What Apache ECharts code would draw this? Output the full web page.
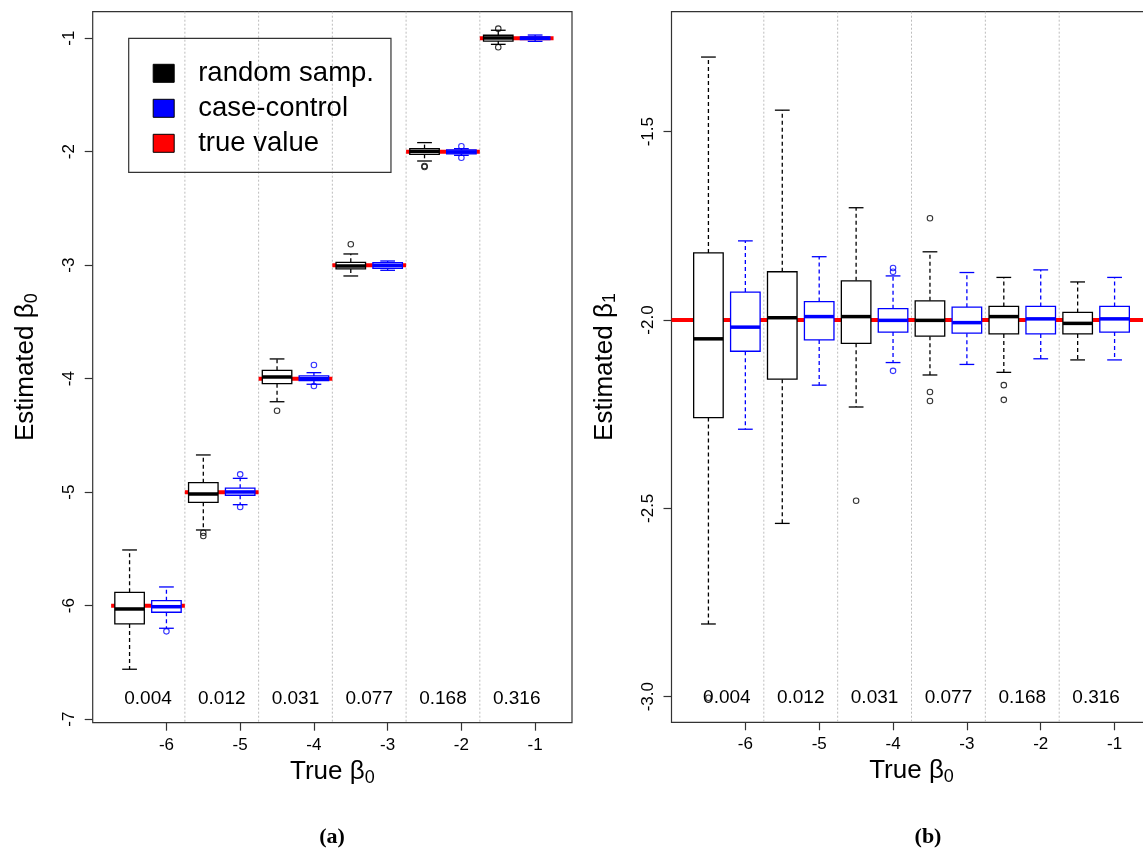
<!DOCTYPE html>
<html><head><meta charset="utf-8">
<script src="https://cdn.jsdelivr.net/npm/echarts@6/dist/echarts.min.js"></script>
<style>html,body{margin:0;padding:0;background:#fff}#c{width:1143px;height:849px}</style>
</head><body><div id="c"></div>
<script>
// ---------- data ----------
const trueBeta0 = [-6, -5, -4, -3, -2, -1];
const prevalence = ['0.004', '0.012', '0.031', '0.077', '0.168', '0.316'];
const trueBeta1 = -2;
const yTicksA = [-7, -6, -5, -4, -3, -2, -1];
const yTicksB = [-3.0, -2.5, -2.0, -1.5];

// [lower whisker, Q1, median, Q3, upper whisker] per true beta0
const b0Random = [
  [-6.560, -6.161, -6.029, -5.882, -5.509],
  [-5.333, -5.089, -5.016, -4.916, -4.672],
  [-4.203, -4.044, -3.985, -3.926, -3.826],
  [-3.095, -3.033, -3.007, -2.975, -2.901],
  [-2.082, -2.023, -1.997, -1.973, -1.920],
  [-1.054, -1.025, -0.998, -0.974, -0.930]
];
const b0CaseControl = [
  [-6.199, -6.058, -6.009, -5.956, -5.835],
  [-5.110, -5.027, -4.998, -4.965, -4.878],
  [-4.049, -4.017, -4.000, -3.976, -3.947],
  [-3.045, -3.027, -3.001, -2.978, -2.963],
  [-2.032, -2.020, -2.003, -1.985, -1.973],
  [-1.028, -1.012, -1.000, -0.988, -0.972]
];
const b0RandomOutliers = [[-5, -5.357], [-5, -5.386], [-4, -4.282], [-3, -2.816], [-2, -2.126], [-2, -2.135], [-1, -0.916], [-1, -1.080]];
const b0CaseControlOutliers = [[-6, -6.226], [-5, -4.843], [-5, -5.130], [-4, -3.879], [-4, -4.064], [-2, -1.952], [-2, -2.053]];

const b1Random = [
  [-2.807, -2.259, -2.050, -1.822, -1.302],
  [-2.540, -2.157, -1.994, -1.872, -1.443],
  [-2.231, -2.062, -1.991, -1.896, -1.702],
  [-2.146, -2.043, -2.001, -1.949, -1.819],
  [-2.139, -2.037, -1.991, -1.964, -1.887],
  [-2.106, -2.037, -2.009, -1.980, -1.899]
];
const b1CaseControl = [
  [-2.290, -2.083, -2.019, -1.926, -1.790],
  [-2.173, -2.053, -1.991, -1.951, -1.832],
  [-2.113, -2.032, -2.001, -1.970, -1.883],
  [-2.118, -2.035, -2.007, -1.966, -1.874],
  [-2.103, -2.037, -1.997, -1.964, -1.867],
  [-2.106, -2.032, -1.997, -1.964, -1.887]
];
const b1RandomOutliers = [[-6, -3.003], [-4, -2.480], [-3, -1.730], [-3, -2.191], [-3, -2.215], [-2, -2.173], [-2, -2.212]];
const b1CaseControlOutliers = [[-4, -1.862], [-4, -1.872], [-4, -2.135]];

// ---------- layout / style constants ----------
const FONT = 'Liberation Sans, Arial, sans-serif';
const RAND_OFFSET = -0.5;   // random-sampling box sits half a unit left of its tick
const BOX_W = 0.4;          // box width in axis units
const BLACK = '#000000', BLUE = '#0000ff', RED = '#ff0000';

function boxSeries(name, values, offset, color, axis) {
  return {
    type: 'custom', name, xAxisIndex: axis, yAxisIndex: axis,
    data: values.map((v, i) => [trueBeta0[i] + offset].concat(v)),
    encode: { x: 0, y: [1, 2, 3, 4, 5] },
    z: 3,
    renderItem(params, api) {
      const x = api.value(0);
      const lo = api.coord([x, api.value(1)]);
      const q1 = api.coord([x, api.value(2)]);
      const md = api.coord([x, api.value(3)]);
      const q3 = api.coord([x, api.value(4)]);
      const hi = api.coord([x, api.value(5)]);
      const bw = api.size([BOX_W, 0])[0];
      const half = bw / 2, cap = bw / 4, cx = lo[0];
      const thin = { stroke: color, lineWidth: 1.3 };
      const dash = { stroke: color, lineWidth: 1.3, lineDash: [4, 3] };
      return {
        type: 'group', children: [
          { type: 'line', shape: { x1: cx, y1: q3[1], x2: cx, y2: hi[1] }, style: dash },
          { type: 'line', shape: { x1: cx, y1: q1[1], x2: cx, y2: lo[1] }, style: dash },
          { type: 'line', shape: { x1: cx - cap, y1: hi[1], x2: cx + cap, y2: hi[1] }, style: thin },
          { type: 'line', shape: { x1: cx - cap, y1: lo[1], x2: cx + cap, y2: lo[1] }, style: thin },
          { type: 'rect', shape: { x: cx - half, y: q3[1], width: bw, height: q1[1] - q3[1] }, style: { fill: '#fff', stroke: color, lineWidth: 1.3 } },
          { type: 'line', shape: { x1: cx - half, y1: md[1], x2: cx + half, y2: md[1] }, style: { stroke: color, lineWidth: 3.5 } }
        ]
      };
    }
  };
}

function outlierSeries(name, pts, offset, color, axis) {
  return {
    type: 'scatter', name, xAxisIndex: axis, yAxisIndex: axis, z: 4,
    data: pts.map(p => [p[0] + offset, p[1]]),
    symbol: 'circle', symbolSize: 5.5,
    itemStyle: { color: 'rgba(0,0,0,0)', borderColor: color, borderWidth: 1.1 },
    silent: true
  };
}

function separatorSeries(axis) {
  return {
    type: 'custom', xAxisIndex: axis, yAxisIndex: axis, z: 1, silent: true,
    data: trueBeta0.slice(0, trueBeta0.length - 1).map(b => [b + 0.25]),
    encode: { x: 0 },
    renderItem(params, api) {
      const cs = params.coordSys;
      const x = api.coord([api.value(0), 0])[0];
      return { type: 'line', shape: { x1: x, y1: cs.y, x2: x, y2: cs.y + cs.height },
        style: { stroke: '#bdbdbd', lineWidth: 1, lineDash: [2, 2] } };
    }
  };
}

function labelSeries(axis) {
  return {
    type: 'custom', xAxisIndex: axis, yAxisIndex: axis, z: 5, silent: true,
    data: trueBeta0.map(b => [b - 0.25]),
    encode: { x: 0 },
    renderItem(params, api) {
      const cs = params.coordSys;
      const x = api.coord([api.value(0), 0])[0];
      return { type: 'text', style: { text: prevalence[params.dataIndex], x: x, y: cs.y + cs.height - 24.4,
        align: 'center', verticalAlign: 'middle', fontSize: 19, fontFamily: FONT, fill: '#000' } };
    }
  };
}

const richName = {
  m: { fontSize: 26, fontFamily: FONT, color: '#000', lineHeight: 30 },
  s: { fontSize: 18, fontFamily: FONT, color: '#000', lineHeight: 14, verticalAlign: 'bottom' }
};

function xAxis(idx) {
  return {
    gridIndex: idx, type: 'value', min: -7, max: -0.5,
    axisLine: { show: false }, splitLine: { show: false },
    axisTick: { show: true, length: 8, customValues: trueBeta0, lineStyle: { color: '#333', width: 1.2 } },
    axisLabel: { customValues: trueBeta0, fontSize: 17, fontFamily: FONT, color: '#000', margin: 14 },
    name: '{m|True β}{s|0}', nameLocation: 'middle', nameGap: 32,
    nameTextStyle: { rich: richName }
  };
}
function yAxis(idx, min, max, ticks, sub, fmt) {
  return {
    gridIndex: idx, type: 'value', min, max,
    axisLine: { show: false }, splitLine: { show: false },
    axisTick: { show: true, length: 8, customValues: ticks, lineStyle: { color: '#333', width: 1.2 } },
    axisLabel: { customValues: ticks, rotate: 90, fontSize: 17, fontFamily: FONT, color: '#000', margin: 15, formatter: fmt },
    name: '{m|Estimated β}{s|' + sub + '}', nameLocation: 'middle', nameGap: 52, nameRotate: 90,
    nameTextStyle: { rich: richName }
  };
}

const captionRich = {
  p: { fontSize: 22, fontFamily: 'Liberation Serif, serif', color: '#000' },
  b: { fontSize: 22, fontWeight: 'bold', fontFamily: 'Liberation Serif, serif', color: '#000' }
};

const option = {
  backgroundColor: '#fff',
  animation: false,
  title: [
    { text: '{p|(}{b|a}{p|)}', left: 332, top: 826, textAlign: 'center', padding: 0, textStyle: { rich: captionRich } },
    { text: '{p|(}{b|b}{p|)}', left: 928, top: 826, textAlign: 'center', padding: 0, textStyle: { rich: captionRich } }
  ],
  legend: {
    left: 128.7, top: 38.3, orient: 'vertical',
    padding: [21, 17, 15, 24],
    itemWidth: 21, itemHeight: 18, itemGap: 7,
    borderColor: '#333', borderWidth: 1.2, selectedMode: false,
    textStyle: { fontSize: 27.5, fontFamily: FONT, color: '#000', padding: [0, 0, 0, 19] },
    data: [
      { name: 'random samp.', icon: 'rect', itemStyle: { color: BLACK, borderColor: '#000', borderWidth: 1 } },
      { name: 'case-control', icon: 'rect', itemStyle: { color: BLUE, borderColor: '#000', borderWidth: 1 } },
      { name: 'true value', icon: 'rect', itemStyle: { color: RED, borderColor: '#000', borderWidth: 1 } }
    ]
  },
  grid: [
    { left: 92.7, top: 11.7, width: 479.3, height: 711, show: true, borderColor: '#333', borderWidth: 1.2, outerBoundsMode: 'none' },
    { left: 671.5, top: 11.7, width: 480, height: 710.6, show: true, borderColor: '#333', borderWidth: 1.2, outerBoundsMode: 'none' }
  ],
  xAxis: [xAxis(0), xAxis(1)],
  yAxis: [
    yAxis(0, -7.031, -0.7665, yTicksA, '0', v => String(v)),
    yAxis(1, -3.068, -1.1816, yTicksB, '1', v => v.toFixed(1))
  ],
  series: [
    separatorSeries(0),
    {
      type: 'custom', name: 'true value', xAxisIndex: 0, yAxisIndex: 0, z: 2, silent: true,
      data: trueBeta0.map(b => [b, b]), encode: { x: 0, y: 1 },
      renderItem(params, api) {
        const b = api.value(0), v = api.value(1);
        const p1 = api.coord([b - 0.75, v]), p2 = api.coord([b + 0.25, v]);
        return { type: 'line', shape: { x1: p1[0], y1: p1[1], x2: p2[0], y2: p2[1] }, style: { stroke: RED, lineWidth: 4 } };
      }
    },
    boxSeries('random samp.', b0Random, RAND_OFFSET, BLACK, 0),
    boxSeries('case-control', b0CaseControl, 0, BLUE, 0),
    outlierSeries('random samp.', b0RandomOutliers, RAND_OFFSET, BLACK, 0),
    outlierSeries('case-control', b0CaseControlOutliers, 0, BLUE, 0),
    labelSeries(0),

    separatorSeries(1),
    {
      type: 'custom', name: 'true value', xAxisIndex: 1, yAxisIndex: 1, z: 2, silent: true,
      data: [[trueBeta1]], encode: { y: 0 },
      renderItem(params, api) {
        const cs = params.coordSys;
        const y = api.coord([-6, api.value(0)])[1];
        return { type: 'line', shape: { x1: cs.x, y1: y, x2: cs.x + cs.width, y2: y }, style: { stroke: RED, lineWidth: 4 } };
      }
    },
    boxSeries('random samp.', b1Random, RAND_OFFSET, BLACK, 1),
    boxSeries('case-control', b1CaseControl, 0, BLUE, 1),
    outlierSeries('random samp.', b1RandomOutliers, RAND_OFFSET, BLACK, 1),
    outlierSeries('case-control', b1CaseControlOutliers, 0, BLUE, 1),
    labelSeries(1)
  ]
};

const chart = echarts.init(document.getElementById('c'), null, { renderer: 'canvas' });
chart.setOption(option);
</script>
</body></html>
